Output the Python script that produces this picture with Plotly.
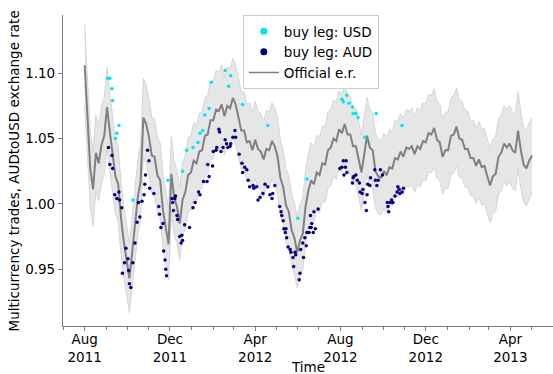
import pandas as pd
import plotly.graph_objects as go

START = pd.Timestamp("2011-08-01")

# Official AUD/USD exchange rate, sampled every 4 days from 1 Aug 2011
official_rate = [
    1.106, 1.066, 1.027, 1.011, 1.039, 1.031, 1.045, 1.052, 1.074, 1.055,
    1.039, 1.021, 1.015, 0.989, 0.971, 0.957, 0.943, 0.963, 0.982, 1.005,
    1.017, 1.066, 1.061, 1.051, 1.037, 1.036, 1.022, 1.018, 0.995, 0.982,
    0.969, 1.023, 1.005, 0.998, 0.985, 1.003, 1.009, 1.022, 1.024, 1.033,
    1.031, 1.040, 1.041, 1.052, 1.053, 1.064, 1.064, 1.072, 1.071, 1.076,
    1.067, 1.075, 1.073, 1.081, 1.076, 1.066, 1.056, 1.056, 1.047, 1.048,
    1.041, 1.049, 1.042, 1.040, 1.034, 1.042, 1.041, 1.048, 1.044, 1.036,
    1.020, 1.013, 0.999, 0.994, 0.980, 0.974, 0.963, 0.972, 0.977, 0.998,
    1.010, 1.018, 1.015, 1.024, 1.022, 1.031, 1.030, 1.041, 1.043, 1.050,
    1.048, 1.057, 1.054, 1.061, 1.053, 1.053, 1.044, 1.044, 1.033, 1.024,
    1.038, 1.052, 1.043, 1.041, 1.025, 1.021, 1.020, 1.025, 1.022, 1.028,
    1.027, 1.035, 1.034, 1.040, 1.036, 1.043, 1.042, 1.044, 1.038, 1.044,
    1.042, 1.048, 1.047, 1.054, 1.053, 1.058, 1.049, 1.047, 1.036, 1.041,
    1.041, 1.052, 1.053, 1.059, 1.050, 1.049, 1.042, 1.042, 1.035, 1.035,
    1.029, 1.034, 1.028, 1.029, 1.021, 1.014, 1.021, 1.023, 1.036, 1.039,
    1.046, 1.043, 1.046, 1.041, 1.039, 1.056, 1.041, 1.030, 1.027, 1.033,
    1.037,
]
official_dates = pd.date_range(START, periods=len(official_rate), freq="4D")

# relative width of the shaded band around the official rate
BAND = 0.028

# Trades whose buy leg is USD: day since 1 Aug 2011, implied rate
usd_day = [33, 36, 39, 40, 44, 46, 49, 69, 119, 140, 146, 155, 162, 165, 169,
           172, 178, 181, 201, 206, 209, 226, 262, 305, 318, 368, 370, 375,
           378, 383, 384, 388, 391, 401, 417, 454]
usd_rate = [1.096, 1.096, 1.088, 1.079, 1.050, 1.054, 1.060, 1.003, 1.018,
            1.025, 1.041, 1.043, 1.047, 1.054, 1.056, 1.068, 1.073, 1.093,
            1.102, 1.090, 1.098, 1.076, 1.060, 0.989, 1.019, 1.080, 1.078,
            1.083, 1.077, 1.074, 1.069, 1.069, 1.066, 1.051, 1.069, 1.060]

# Trades whose buy leg is AUD: day since 1 Aug 2011, implied rate
aud_day = [34, 36, 39, 40, 43, 46, 49, 50, 53, 54, 57, 59, 62, 63, 64, 66, 69,
           72, 75, 77, 79, 82, 85, 86, 87, 90, 92, 93, 99, 106, 107, 109, 112,
           113, 115, 116, 117, 125, 126, 127, 129, 130, 132, 133, 136, 138,
           139, 140, 143, 150, 155, 158, 163, 165, 170, 175, 176, 178, 183,
           184, 188, 189, 192, 193, 195, 198, 201, 203, 205, 208, 209, 212,
           215, 216, 221, 225, 226, 229, 232, 234, 236, 241, 242, 246, 248,
           251, 255, 258, 262, 265, 268, 269, 272, 279, 281, 282, 284, 285,
           287, 288, 289, 291, 294, 295, 298, 299, 301, 302, 307, 308, 309,
           312, 313, 315, 317, 318, 321, 322, 323, 324, 325, 327, 328, 330,
           334, 365, 368, 370, 371, 373, 374, 375, 383, 384, 385, 388, 390,
           393, 394, 397, 398, 401, 403, 404, 405, 408, 409, 415, 416, 418,
           420, 423, 426, 433, 434, 435, 437, 439, 440, 441, 444, 447, 448,
           450, 451, 454, 456]
aud_rate = [1.043, 1.030, 1.037, 1.027, 1.007, 1.004, 1.009, 1.003, 0.997,
            0.947, 0.955, 0.966, 0.958, 0.949, 0.939, 0.936, 0.955, 0.970,
            0.986, 1.001, 0.990, 1.002, 1.007, 1.015, 1.022, 1.041, 1.033,
            1.012, 1.008, 0.998, 0.992, 0.982, 0.985, 0.964, 0.957, 0.950,
            0.945, 1.004, 1.001, 0.995, 1.004, 1.006, 0.991, 0.988, 0.975,
            0.970, 0.976, 0.972, 0.984, 0.982, 0.997, 1.001, 1.009, 1.007,
            1.017, 1.017, 1.030, 1.021, 1.029, 1.040, 1.041, 1.043, 1.057,
            1.055, 1.040, 1.043, 1.049, 1.046, 1.043, 1.044, 1.046, 1.051,
            1.056, 1.051, 1.038, 1.031, 1.024, 1.028, 1.026, 1.018, 1.013,
            1.014, 1.012, 1.013, 1.003, 1.005, 1.008, 1.015, 1.013, 1.007,
            1.004, 1.008, 1.014, 0.998, 0.994, 0.991, 0.987, 0.981, 0.978,
            0.981, 0.974, 0.967, 0.965, 0.963, 0.959, 0.952, 0.963, 0.961,
            0.942, 0.947, 0.965, 0.970, 0.959, 0.974, 0.968, 0.978, 0.978,
            0.982, 0.991, 0.982, 0.985, 0.978, 0.994, 0.981, 0.996, 1.027,
            1.028, 1.033, 1.022, 1.028, 1.033, 1.024, 1.016, 1.020, 1.021,
            1.022, 1.018, 1.016, 1.009, 1.008, 1.011, 1.001, 0.995, 1.007,
            1.015, 1.014, 1.020, 1.026, 1.018, 1.014, 1.018, 1.026, 1.022,
            1.001, 0.998, 0.994, 1.001, 1.003, 1.001, 1.001, 1.006, 1.009,
            1.013, 1.011, 1.008, 1.009, 1.012]

y_ticks = [0.95, 1.00, 1.05, 1.10]

usd_dates = START + pd.to_timedelta(usd_day, unit="D")
aud_dates = START + pd.to_timedelta(aud_day, unit="D")
upper = [r * (1 + BAND) for r in official_rate]
lower = [r * (1 - BAND) for r in official_rate]

FONT = "DejaVu Sans"
AXIS_GREY = "#7f7f7f"

fig = go.Figure()

# shaded band around the official rate
fig.add_trace(go.Scatter(x=official_dates, y=upper, mode="lines",
                         line=dict(color="#d6d6d6", width=1),
                         showlegend=False, hoverinfo="skip"))
fig.add_trace(go.Scatter(x=official_dates, y=lower, mode="lines",
                         line=dict(color="#d6d6d6", width=1),
                         fill="tonexty", fillcolor="rgba(222,222,222,0.75)",
                         showlegend=False, hoverinfo="skip"))

# official exchange rate
fig.add_trace(go.Scatter(x=official_dates, y=official_rate, mode="lines",
                         line=dict(color="#808080", width=2),
                         showlegend=False))

# trades
fig.add_trace(go.Scatter(x=usd_dates, y=usd_rate, mode="markers",
                         marker=dict(color="#00e5ee", size=3.5),
                         showlegend=False))
fig.add_trace(go.Scatter(x=aud_dates, y=aud_rate, mode="markers",
                         marker=dict(color="#000080", size=3.5),
                         showlegend=False))

# legend entries with larger symbols
fig.add_trace(go.Scatter(x=[None], y=[None], mode="markers", name="buy leg: USD",
                         marker=dict(color="#00e5ee", size=7)))
fig.add_trace(go.Scatter(x=[None], y=[None], mode="markers", name="buy leg: AUD",
                         marker=dict(color="#000080", size=7)))
fig.add_trace(go.Scatter(x=[None], y=[None], mode="lines", name="Official e.r.",
                         line=dict(color="#808080", width=1.5)))

fig.update_layout(
    width=553, height=374,
    margin=dict(l=63, r=0, t=15, b=48),
    paper_bgcolor="white", plot_bgcolor="white",
    font=dict(family=FONT, size=13.5, color="black"),
    showlegend=True,
    legend=dict(x=0.367, y=1.0, xanchor="left", yanchor="top",
                bgcolor="white", bordercolor="#cccccc", borderwidth=1,
                font=dict(family=FONT, size=13.5), traceorder="normal",
                tracegroupgap=0),
    xaxis=dict(
        range=["2011-07-01", "2013-06-01"],
        tick0="2011-08-01", dtick="M4", tickformat="%b<br>%Y",
        ticks="outside", ticklen=4, tickcolor=AXIS_GREY, tickwidth=1,
        ticklabelstandoff=-3,
        minor=dict(dtick="M1", tick0="2011-07-01", ticks="outside",
                   ticklen=3, tickcolor=AXIS_GREY, showgrid=False),
        showline=True, linecolor=AXIS_GREY, linewidth=1.2,
        showgrid=False, zeroline=False,
        tickfont=dict(family=FONT, size=13.5),
    ),
    yaxis=dict(
        range=[0.9066, 1.1444],
        tickvals=y_ticks, tickformat=".2f",
        ticks="outside", ticklen=4, tickcolor=AXIS_GREY, tickwidth=1,
        showline=True, linecolor=AXIS_GREY, linewidth=1.2,
        showgrid=False, zeroline=False,
        tickfont=dict(family=FONT, size=13.5),
    ),
    annotations=[
        dict(text="Multicurrency trades, AUDtoUSD exchange rate",
             xref="paper", yref="paper", x=-0.1, y=0.497,
             xanchor="center", yanchor="middle", textangle=-90,
             showarrow=False, font=dict(family=FONT, size=13.5)),
        dict(text="Time", xref="paper", yref="paper", x=0.5, y=-0.163,
             xanchor="center", yanchor="bottom", showarrow=False,
             font=dict(family=FONT, size=13.5)),
    ],
)

fig.write_html("out.html")
